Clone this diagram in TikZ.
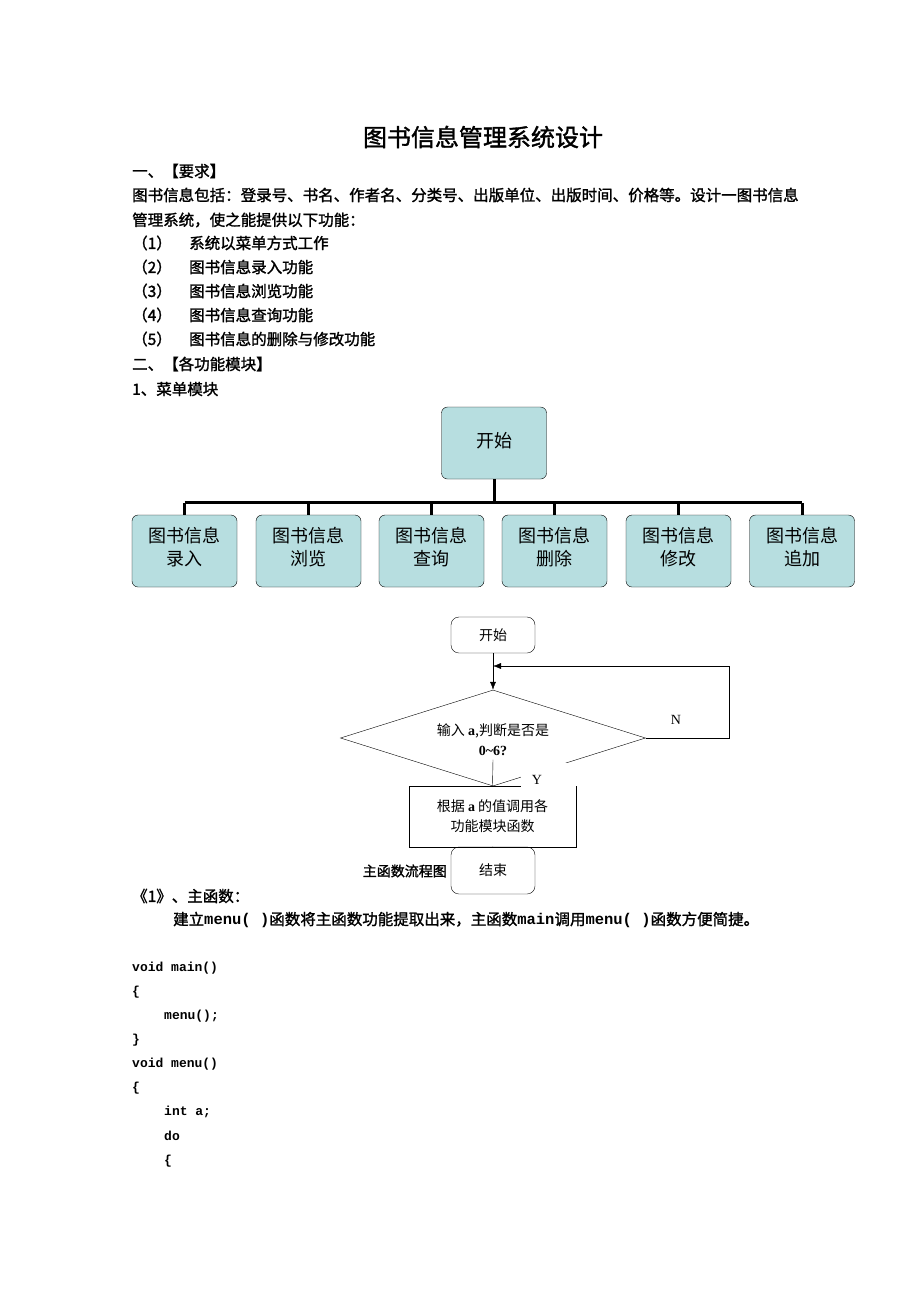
\documentclass[tikz,border=0pt]{standalone}
\usepackage{fontspec}
\newfontfamily\cjk{Noto Sans CJK SC}
\newfontfamily\cjkb[FakeBold=1.5]{Noto Sans CJK SC}
\newfontfamily\codefont{Liberation Mono}
\newfontfamily\serifb{Liberation Serif}
\usetikzlibrary{shapes.geometric, arrows.meta}
\definecolor{boxfill}{HTML}{B7DEE0}
\begin{document}
\begin{tikzpicture}[
        x=1pt, y=-1pt,
        body_text/.style={
            anchor=west,
            inner sep=0pt,
            font=\fontsize{15.5}{17}\selectfont\cjkb
        },
        code_text/.style={
            anchor=west,
            inner sep=0pt,
            font=\fontsize{13}{15}\selectfont\codefont\bfseries
        },
        module_box/.style={
            draw=black, 
            fill=boxfill,
            rounded corners=6pt,
            minimum width=105pt,
            minimum height=72pt,
            align=center,
            font=\fontsize{18}{23}\selectfont\cjk
        },
        term_box/.style={
            draw=black,
            rounded corners=8pt,
            minimum width=84pt,
            font=\fontsize{14}{16}\selectfont\cjk
        },
        bus_line/.style={
            line width=3pt
        },
        flow_arrow/.style={
            -{Latex[length=8pt,width=6pt]}
        }
    ]
        \useasboundingbox[fill=white] (0,0) rectangle (920,1302);

        % page text
        \node[font=\fontsize{24}{26}\selectfont\cjkb, inner sep=0pt] (title) at (483,137) {图书信息管理系统设计};
        \node[body_text] (req) at (132,171) {一、【要求】};
        \node[body_text] (l1) at (132,195) {图书信息包括：登录号、书名、作者名、分类号、出版单位、出版时间、价格等。设计一图书信息};
        \node[body_text] (l2) at (132,220) {管理系统，使之能提供以下功能：};
        \foreach \i/\t [count=\k] in {1/系统以菜单方式工作, 2/图书信息录入功能, 3/图书信息浏览功能, 4/图书信息查询功能, 5/图书信息的删除与修改功能} {
            \node[body_text] (n\k) at (132,219+24*\k) {（\i）};
            \node[body_text] (f\k) at (189,219+24*\k) {\t};
        }
        \node[body_text] (mods) at (132,364) {二、【各功能模块】};
        \node[body_text] (menu) at (132,389) {1、菜单模块};

        % module tree
        \node[module_box, minimum height=72pt] (start) at (494,443) {\raisebox{6pt}{开始}};
        \foreach \x/\t/\n in {184.5/录入/lr, 308.5/浏览/ll, 431.5/查询/cx, 554.5/删除/sc, 678.5/修改/xg, 802/追加/zj} {
            \node[module_box] (\n) at (\x,551) {\raisebox{0pt}{图书信息}\\\t\vspace{8pt}};
            \draw[bus_line] (\n.north) -- ++(0,-12) coordinate (\n_top);
        }
        \draw[bus_line] (start.south) -- ++(0,24);
        \draw[bus_line] (lr_top) -- (zj_top);

        % main flow chart
        \node[term_box, minimum height=36pt] (fstart) at (493,635) {开始};
        \node[diamond, draw=black, minimum width=305pt, minimum height=96pt, inner sep=0pt] (check) at (493,738) {};
        \node[font=\fontsize{14}{16}\selectfont\cjk, align=center] (qtext) at (493,740) {输入 \textbf{\serifb a},判断是否是\\[4pt]{\serifb\bfseries 0\textasciitilde 6?}};
        \node[draw=black, minimum width=167pt, minimum height=61pt, align=center, font=\fontsize{14}{20}\selectfont\cjk] (call) at (492.5,816.5) {根据 {\serifb\bfseries a} 的值调用各\\功能模块函数};
        \node[fill=white, minimum width=55pt, minimum height=34pt, inner sep=0pt] (cover) at (548,780) {};
        \node[font=\fontsize{14}{16}\selectfont\serifb] (ylab) at (537,780) {Y};
        \node[term_box, minimum height=47pt] (fend) at (493,870.5) {结束};
        \coordinate (loop_r) at (729,738);
        \coordinate (loop_t) at (729,666);
        \coordinate (loop_in) at (493,666);
        \draw[flow_arrow] (fstart.south) -- (check.north);
        \draw (check.east) -- (loop_r) -- (loop_t);
        \draw[flow_arrow] (loop_t) -- (loop_in);
        \node[font=\fontsize{14}{16}\selectfont\serifb] (nlab) at (676,720) {N};
        \draw (qtext.south) -- (call.north);
        \draw (call.south) -- (fend.north);
        \node[font=\fontsize{14}{15}\selectfont\cjkb, anchor=east, inner sep=0pt] (fcap) at (447,871) {主函数流程图};

        % main function text and code
        \node[body_text] (main) at (132,896) {《1》、主函数：};
        \node[body_text] (desc) at (173,920) {建立{\codefont\bfseries menu( )}函数将主函数功能提取出来，主函数{\codefont\bfseries main}调用{\codefont\bfseries menu( )}函数方便简捷。};
        \foreach \x/\y/\t [count=\k] in {132/968/void main(), 132/992/\{, 164/1016/menu();, 132/1040/\}, 132/1064/void menu(), 132/1088/\{, 164/1112/int a;, 164/1136/do, 164/1161/\{} {
            \node[code_text] (c\k) at (\x,\y) {\t};
        }
\end{tikzpicture}
\end{document}
